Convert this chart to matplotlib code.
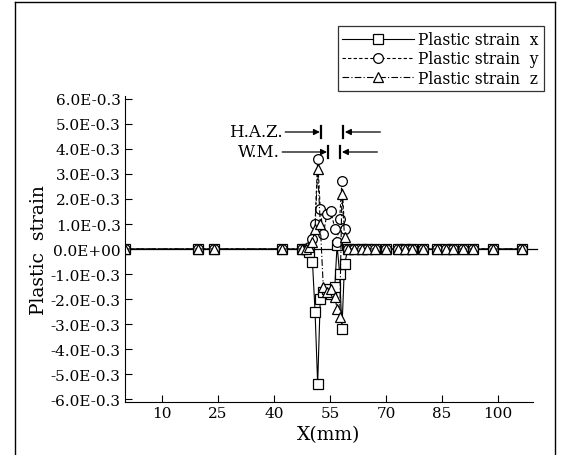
import numpy as np
import matplotlib
matplotlib.use("Agg")
import matplotlib.pyplot as plt
from matplotlib.lines import Line2D

# --- data (strain in units of 1e-3) ---
pos_mm = [0.0, 19.6, 23.9, 42.1, 47.5, 48.5, 49.5, 50.3, 51.0, 51.7, 52.4,
          53.2, 54.2, 55.3, 56.3, 56.9, 57.6, 58.2, 58.9, 59.8, 61.5, 63.5,
          65.0, 67.0, 70.0, 73.2, 75.0, 77.0, 80.0, 83.6, 86.0, 88.0, 90.6,
          93.3, 98.7, 106.4]

strain_x = [0, 0, 0, 0, 0, 0, -0.1, -0.5, -2.5, -5.4, -2.0,
            -1.7, -1.6, -1.8, -1.5, 0.15, -1.0, -3.2, -0.6, 0, 0, 0,
            0, 0, 0, 0, 0, 0, 0, 0, 0, 0, 0,
            0, 0, 0]
strain_y = [0, 0, 0, 0, 0, 0, 0.1, 0.4, 1.0, 3.6, 1.6,
            0.6, 1.4, 1.5, 0.8, 0.3, 1.2, 2.7, 0.8, 0, 0, 0,
            0, 0, 0, 0, 0, 0, 0, 0, 0, 0, 0,
            0, 0, 0]
strain_z = [0, 0, 0, 0, 0, 0, 0.1, 0.3, 0.8, 3.2, 1.0,
            -1.5, -1.7, -1.6, -1.9, -2.4, -2.7, 2.2, 0.5, 0, 0, 0,
            0, 0, 0, 0, 0, 0, 0, 0, 0, 0, 0,
            0, 0, 0]

xticks = [10, 25, 40, 55, 70, 85, 100]
yticks = [6, 5, 4, 3, 2, 1, 0, -1, -2, -3, -4, -5, -6]
ytick_labels = ["6.0E-0.3", "5.0E-0.3", "4.0E-0.3", "3.0E-0.3", "2.0E-0.3",
                "1.0E-0.3", "0.0E+00", "-1.0E-0.3", "-2.0E-0.3", "-3.0E-0.3",
                "-4.0E-0.3", "-5.0E-0.3", "-6.0E-0.3"]

# zone markers (mm, strain level)
haz_zone = (52.3, 59.0, 4.68)
wm_zone = (54.2, 58.2, 3.88)

plt.rcParams['font.family'] = ['DejaVu Serif']
plt.rcParams['font.size'] = 11

fig = plt.figure(figsize=(5.61, 4.56), dpi=100)
ax = fig.add_axes([0.2223, 0.1173, 0.7278, 0.6689])

x = np.array(pos_mm)
ax.axhline(0, xmin=0, xmax=1.01, color='k', lw=0.9, clip_on=False)
ax.plot(x, strain_x, color='k', lw=0.8, ls='-', marker='s', ms=6.5,
        mfc='white', mec='k', mew=0.9, label='Plastic strain  x')
ax.plot(x, strain_y, color='k', lw=0.8, ls=(0, (3, 2)), marker='o', ms=7,
        mfc='white', mec='k', mew=0.9, label='Plastic strain  y')
ax.plot(x, strain_z, color='k', lw=0.8, ls=(0, (6, 2, 1, 2)), marker='^', ms=7,
        mfc='white', mec='k', mew=0.9, label='Plastic strain  z')

ax.set_xlim(0, 109.4)
ax.set_ylim(-6.1, 6.1)
ax.set_xticks(xticks)
ax.set_yticks(yticks)
ax.set_yticklabels(ytick_labels)
ax.tick_params(direction='in', length=5, width=0.8, pad=3)
ax.spines['top'].set_visible(False)
ax.spines['right'].set_visible(False)
ax.set_xlabel('X(mm)', fontsize=13.5, labelpad=4)
ax.set_ylabel('Plastic  strain', fontsize=13.5, labelpad=2)

# H.A.Z. / W.M. arrows
for (x_l, x_r, yv), txt, x_txt in [(haz_zone, 'H.A.Z.', 42.4), (wm_zone, 'W.M.', 41.6)]:
    ax.text(x_txt, yv, txt, ha='right', va='center', fontsize=12)
    ax.annotate('', xy=(x_l, yv), xytext=(x_txt + 0.6, yv),
                arrowprops=dict(arrowstyle='-|>', color='k', lw=0.9,
                                mutation_scale=9, shrinkA=0, shrinkB=0))
    ax.annotate('', xy=(x_r, yv), xytext=(x_r + 9.5, yv),
                arrowprops=dict(arrowstyle='-|>', color='k', lw=0.9,
                                mutation_scale=9, shrinkA=0, shrinkB=0))
    ax.plot([x_l + 0.4, x_l + 0.4], [yv - 0.25, yv + 0.25], color='k', lw=1.6)
    ax.plot([x_r - 0.4, x_r - 0.4], [yv - 0.25, yv + 0.25], color='k', lw=1.6)

leg = ax.legend(loc='upper right', bbox_to_anchor=(1.045, 1.255), frameon=True,
                fancybox=False, edgecolor='k', handlelength=4.6,
                borderpad=0.3, labelspacing=0.15, fontsize=11.2, handletextpad=0.3)
leg.get_frame().set_linewidth(0.9)

# scanned page frame
for xs, ys in [([0.027, 0.027], [0.0, 0.993]), ([0.027, 0.99], [0.993, 0.993]),
               ([0.99, 0.99], [0.993, 0.0])]:
    fig.add_artist(Line2D(xs, ys, color='k', lw=1.0))

fig.savefig('out.png', dpi=100)
